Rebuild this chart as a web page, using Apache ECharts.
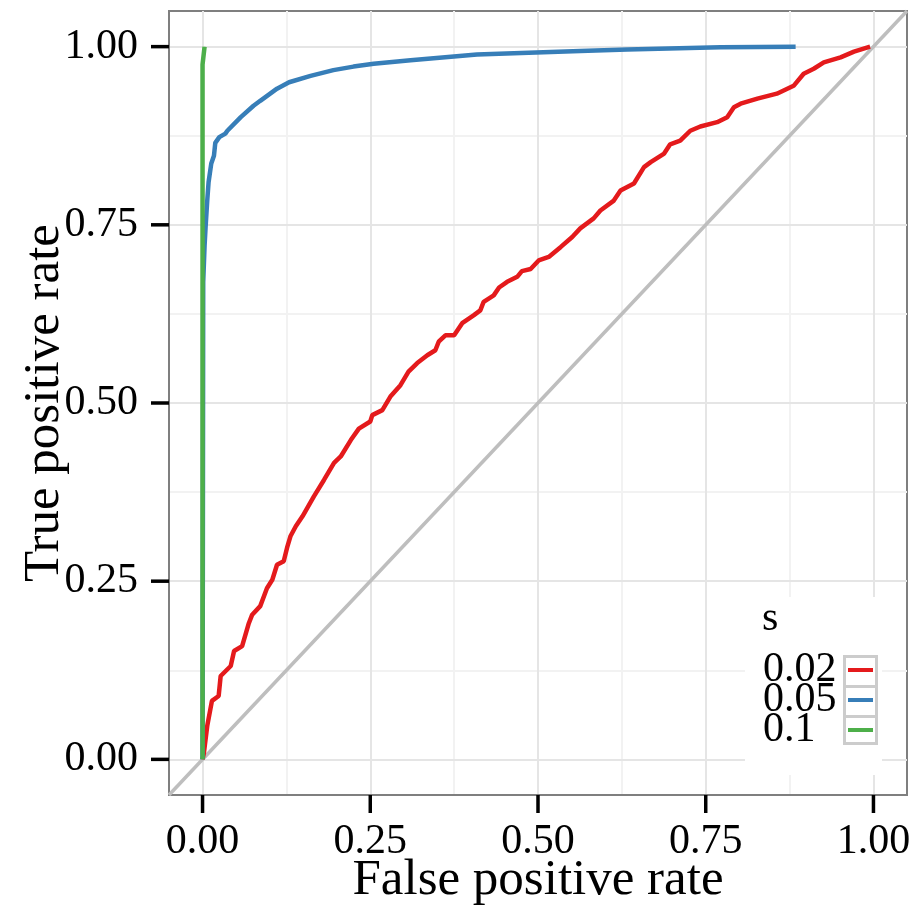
<!DOCTYPE html>
<html>
<head>
<meta charset="utf-8">
<script src="https://cdn.jsdelivr.net/npm/echarts@6/dist/echarts.min.js"></script>
<style>
html,body{margin:0;padding:0;background:#fff;}
#chart{width:914px;height:914px;}
</style>
</head>
<body>
<div id="chart"></div>
<script>
// ---- data ----
const seriesNames = ['0.02', '0.05', '0.1'];
const curve002 = [[0,0],[0.002,0.009],[0.007,0.047],[0.014,0.082],[0.024,0.089],[0.027,0.117],[0.042,0.131],[0.047,0.152],[0.059,0.159],[0.069,0.191],[0.074,0.203],[0.086,0.215],[0.096,0.240],[0.104,0.252],[0.111,0.273],[0.121,0.278],[0.126,0.297],[0.131,0.313],[0.139,0.327],[0.149,0.341],[0.163,0.364],[0.166,0.369],[0.181,0.392],[0.196,0.416],[0.206,0.425],[0.221,0.448],[0.233,0.464],[0.250,0.474],[0.253,0.483],[0.268,0.490],[0.280,0.509],[0.295,0.525],[0.307,0.544],[0.320,0.556],[0.335,0.567],[0.347,0.574],[0.352,0.586],[0.362,0.595],[0.375,0.595],[0.387,0.612],[0.404,0.623],[0.414,0.630],[0.419,0.642],[0.434,0.651],[0.442,0.662],[0.454,0.670],[0.469,0.677],[0.476,0.685],[0.489,0.688],[0.501,0.700],[0.516,0.705],[0.534,0.719],[0.551,0.733],[0.563,0.745],[0.583,0.759],[0.593,0.770],[0.613,0.784],[0.623,0.798],[0.643,0.808],[0.658,0.831],[0.668,0.838],[0.688,0.850],[0.697,0.863],[0.712,0.868],[0.727,0.882],[0.742,0.888],[0.767,0.894],[0.782,0.901],[0.792,0.915],[0.802,0.920],[0.827,0.927],[0.856,0.934],[0.881,0.945],[0.896,0.962],[0.911,0.969],[0.926,0.978],[0.951,0.985],[0.971,0.993],[0.995,1.0]];
const curve005 = [[0,0],[0.0005,0.31],[0.001,0.67],[0.003,0.72],[0.0045,0.746],[0.007,0.784],[0.009,0.81],[0.013,0.836],[0.017,0.847],[0.019,0.865],[0.025,0.873],[0.034,0.878],[0.037,0.882],[0.057,0.901],[0.076,0.917],[0.086,0.924],[0.111,0.941],[0.129,0.950],[0.161,0.959],[0.195,0.967],[0.225,0.972],[0.255,0.976],[0.31,0.981],[0.409,0.989],[0.563,0.994],[0.633,0.996],[0.772,0.999],[0.884,1.0]];
const curve01 = [[0,0],[0,0.975],[0.003,1.0]];
const diagonal = [[-0.05,-0.05],[1.05,1.05]];
const majorTicks = [0, 0.25, 0.5, 0.75, 1];
const minorTicks = [0.125, 0.375, 0.625, 0.875];
const axisRange = [-0.05, 1.05];

// ---- styling ----
const colors = ['#E41A1C', '#377EB8', '#4DAF4A'];
const FONT = '"Liberation Serif", "Times New Roman", serif';

function keyIcon(color, last) {
  let svg = "<svg xmlns='http://www.w3.org/2000/svg' width='35' height='30' viewBox='0 0 35 30'>" +
    "<rect x='0' y='0' width='35' height='30' fill='white'/>" +
    "<line x1='1.5' y1='0' x2='1.5' y2='30' stroke='#CCCCCC' stroke-width='3'/>" +
    "<line x1='33.5' y1='0' x2='33.5' y2='30' stroke='#CCCCCC' stroke-width='3'/>" +
    "<line x1='0' y1='1.5' x2='35' y2='1.5' stroke='#CCCCCC' stroke-width='3'/>" +
    (last ? "<line x1='0' y1='28.5' x2='35' y2='28.5' stroke='#CCCCCC' stroke-width='3'/>" : "") +
    "<line x1='5' y1='15' x2='30' y2='15' stroke='" + color + "' stroke-width='4'/>" +
    "</svg>";
  return 'image://data:image/svg+xml;charset=utf-8,' + encodeURIComponent(svg);
}

const chart = echarts.init(document.getElementById('chart'), null, {renderer: 'canvas'});

// tick marks are drawn as part of each axis label (rich text), so they sit outside the panel
const xLabel = {
  show: true, customValues: majorTicks, margin: 0,
  formatter: v => '{t| }\n{v|' + v.toFixed(2) + '}',
  rich: {
    t: {width: 3.5, height: 18, lineHeight: 18, backgroundColor: '#000', fontSize: 1},
    v: {fontFamily: FONT, fontSize: 42, lineHeight: 57, color: '#000'}
  }
};
const yLabel = {
  show: true, customValues: majorTicks, margin: 0,
  formatter: v => '{v|' + v.toFixed(2) + '}{s| }{t| }',
  rich: {
    v: {fontFamily: FONT, fontSize: 42, color: '#000'},
    s: {width: 13, fontSize: 1},
    t: {width: 18, height: 3.5, backgroundColor: '#000', fontSize: 1}
  }
};

function mainAxis(name, nameGap, label) {
  return {
    type: 'value', min: axisRange[0], max: axisRange[1],
    name: name, nameLocation: 'middle', nameGap: nameGap, nameMoveOverlap: false,
    nameTextStyle: {fontFamily: FONT, fontSize: 51, color: '#000'},
    axisLine: {show: true, onZero: false, lineStyle: {color: '#7F7F7F', width: 2}},
    axisTick: {show: false, customValues: majorTicks},
    axisLabel: label,
    splitLine: {show: true, lineStyle: {color: '#E5E5E5', width: 2}},
    z: 1
  };
}
function minorAxis() {
  return {
    type: 'value', min: axisRange[0], max: axisRange[1],
    axisLine: {show: false, onZero: false},
    axisTick: {show: false, customValues: minorTicks},
    axisLabel: {show: false, customValues: minorTicks},
    splitLine: {show: true, lineStyle: {color: '#F2F2F2', width: 2}},
    z: 0
  };
}

const lineData = [curve002, curve005, curve01];

chart.setOption({
  animation: false,
  grid: {left: 169, right: 7, top: 11, bottom: 119, containLabel: false, outerBoundsMode: 'none',
    show: true, borderColor: '#7F7F7F', borderWidth: 2},
  xAxis: [mainAxis('False positive rate', 60, xLabel), minorAxis()],
  yAxis: [mainAxis('True positive rate', 99, yLabel), minorAxis()],
  title: {text: 's', left: 762, top: 598, padding: 0,
    textStyle: {fontFamily: FONT, fontSize: 42, fontWeight: 'normal', color: '#000', lineHeight: 41}},
  legend: {
    orient: 'vertical', align: 'right', left: 745, top: 597,
    padding: [52, 4, 24, 18], backgroundColor: '#fff',
    itemWidth: 35, itemHeight: 30, itemGap: -12, selectedMode: false,
    data: seriesNames.map((n, i) => ({name: n, icon: keyIcon(colors[i], i === seriesNames.length - 1)})),
    formatter: '{a|{name}}',
    textStyle: {fontFamily: FONT, fontSize: 42, color: '#000',
      rich: {a: {width: 75, align: 'left', fontFamily: FONT, fontSize: 42, color: '#000'}}}
  },
  series: [
    {type: 'line', name: 'diag', data: diagonal, showSymbol: false, silent: true,
      lineStyle: {color: '#BEBEBE', width: 3.5}, xAxisIndex: 0, yAxisIndex: 0, z: 2},
  ].concat(seriesNames.map((n, i) => ({
    type: 'line', name: n, data: lineData[i], showSymbol: false, symbol: 'none',
    lineStyle: {color: colors[i], width: 4.5}, itemStyle: {color: colors[i]},
    xAxisIndex: 0, yAxisIndex: 0, z: 3 + i
  })))
});
</script>
</body>
</html>
